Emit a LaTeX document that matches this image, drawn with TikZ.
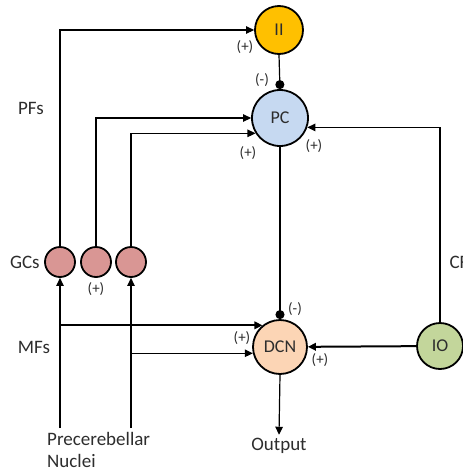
\documentclass[tikz,border=0pt]{standalone}
\usepackage{fontspec}
\setmainfont{Carlito}
\usetikzlibrary{arrows.meta,positioning}
\definecolor{cbgold} {RGB}{255,192,  0}
\definecolor{cbblue} {RGB}{198,217,241}
\definecolor{cbpink} {RGB}{217,150,148}
\definecolor{cbpeach}{RGB}{252,213,181}
\definecolor{cbgreen}{RGB}{195,214,155}
\definecolor{cbtext} {RGB}{ 45, 45, 45}
\tikzset{
  cell/.style={circle,draw=black,line width=1.8pt,inner sep=0pt,
               font=\fontsize{18}{20}\selectfont,text=cbtext},
  cellgold/.style={cell,fill=cbgold,minimum size=48pt},
  cellblue/.style={cell,fill=cbblue,minimum size=56pt},
  cellpink/.style={cell,fill=cbpink,minimum size=30pt},
  cellpeach/.style={cell,fill=cbpeach,minimum size=54pt},
  cellgreen/.style={cell,fill=cbgreen,minimum size=46pt},
  arr/.style={-{Triangle[length=8pt,width=7.5pt]},line width=1.2pt},
  arrthick/.style={arr,line width=2pt},
  inh/.style={-{Circle[length=9pt]},line width=1.2pt},
  sgn/.style={font=\fontsize{15}{17}\selectfont,text=cbtext,inner sep=0pt},
  lbl/.style={font=\fontsize{19}{22}\selectfont,text=cbtext},
}

\begin{document}
\begin{tikzpicture}[x=1pt,y=-1pt]
  \useasboundingbox[fill=white] (0,0) rectangle (463,474);
  % Cells
  \node[cellgold]  (II)  at (279,30)  {II};
  \node[cellblue]  (PC)  at (280,118) {PC};
  \node[cellpeach] (DCN) at (280,347) {DCN};
  \node[cellgreen] (IO)  at (440,346) {IO};
  \node[cellpink]  (GC1) at (60,262)  {};
  \node[cellpink]  (GC2) at (96,262)  {};
  \node[cellpink]  (GC3) at (131,262) {};
  % Labels
  \node[lbl] (PFs) at (31,108) {PFs};
  \node[lbl,left=1pt of GC1] (GCs) {GCs};
  \node[lbl] (MFs) at (34,347) {MFs};
  \node[lbl,anchor=west] (CF) at (446,262) {CF};
  \node[lbl] (out) at (279,446) {Output};
  \node[lbl,align=left,anchor=north west,inner sep=0pt] (pcn) at (47,432)
       {Precerebellar\\Nuclei};

  % Mossy fibre inputs
  \coordinate (mfA) at (60,428);
  \coordinate (mfB) at (131,428);
  \coordinate (brA) at (mfA |- DCN.129);
  \coordinate (brB) at (mfB |- DCN.193);
  \draw[arr] (mfA) -- (GC1.south);
  \draw[arr] (mfB) -- (GC3.south);
  \draw[arrthick] (brA) -- (DCN.129);
  \draw[arr] (brB) -- (DCN.193);

  % Parallel fibres
  \draw[arr] (GC1.north) |- (II.west);
  \draw[arr] (GC2.north) |- (PC.west);
  \draw[arr] (GC3.north) |- (PC.212);

  % Climbing fibre and cell outputs
  \draw[arr] (IO.north) |- (PC.-19);
  \draw[arrthick] (IO) -- (DCN);
  \draw[inh] (II.south) -- (PC.north);
  \draw[inh] (PC.south) -- (DCN.north);
  \draw[arr] (DCN.south) -- (out.north);

  % Signs
  \node[sgn] at (245,47)  {(+)};
  \node[sgn] at (262,80)  {(-)};
  \node[sgn] at (248,153) {(+)};
  \node[sgn] at (314,146) {(+)};
  \node[sgn,below=4pt of GC2] {(+)};
  \node[sgn] at (295,309) {(-)};
  \node[sgn] at (242,338) {(+)};
  \node[sgn] at (320,360) {(+)};
\end{tikzpicture}
\end{document}
